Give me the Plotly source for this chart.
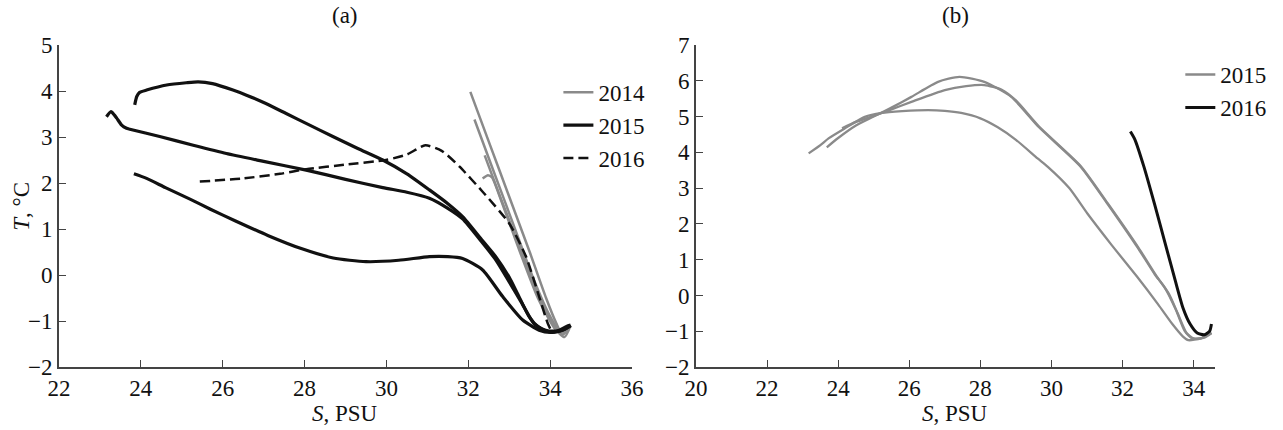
import plotly.graph_objects as go

# ---------------- Panel (a) data ----------------
# 2014 (gray) profiles
a2014_1_S = [32.05, 32.5, 33.0, 33.5, 33.9, 34.15, 34.3, 34.5]
a2014_1_T = [3.98, 2.9, 1.7, 0.5, -0.5, -1.05, -1.3, -1.1]
a2014_2_S = [32.15, 32.6, 33.1, 33.6, 34.0, 34.25, 34.4]
a2014_2_T = [3.38, 2.3, 1.1, -0.1, -0.9, -1.25, -1.2]
a2014_3_S = [32.4, 32.8, 33.3, 33.75, 34.1, 34.3, 34.45]
a2014_3_T = [2.6, 1.65, 0.5, -0.5, -1.1, -1.3, -1.15]
a2014_4_S = [32.35, 32.48, 32.58, 32.75, 33.2, 33.7, 34.1, 34.35, 34.5]
a2014_4_T = [2.1, 2.17, 2.12, 1.75, 0.65, -0.5, -1.15, -1.35, -1.1]

# 2015 (black) profiles
a2015_1_S = [23.85, 23.9, 23.97, 24.14, 24.63, 25.11, 25.4, 25.75, 26.25, 26.58, 27.0, 27.55,
             28.1, 28.69, 29.3, 29.91, 30.5, 31.05, 31.5, 31.86, 32.3, 32.67, 33.0, 33.2,
             33.49, 33.7, 33.89, 34.05, 34.22, 34.4, 34.5]
a2015_1_T = [3.70, 3.88, 3.97, 4.02, 4.13, 4.18, 4.2, 4.16, 4.02, 3.91, 3.75, 3.51,
             3.27, 3.01, 2.75, 2.5, 2.2, 1.85, 1.55, 1.27, 0.8, 0.4, -0.05, -0.4,
             -0.91, -1.12, -1.2, -1.22, -1.2, -1.12, -1.09]
a2015_2_S = [23.16, 23.27, 23.35, 23.41, 23.53, 23.65, 23.73, 24.46, 25.28, 26.09, 27.0,
             28.04, 29.0, 29.91, 30.5, 31.05, 31.5, 31.86, 32.3, 32.67, 33.0, 33.3, 33.6,
             33.85, 34.1, 34.35, 34.5]
a2015_2_T = [3.44, 3.55, 3.48, 3.41, 3.26, 3.19, 3.17, 3.01, 2.82, 2.64, 2.47,
             2.28, 2.08, 1.9, 1.8, 1.67, 1.45, 1.22, 0.75, 0.33, -0.15, -0.6, -1.05,
             -1.2, -1.24, -1.18, -1.1]
a2015_3_S = [23.83, 24.14, 24.6, 25.2, 25.7, 26.3, 27.1, 27.9, 28.7, 29.5, 30.3,
             31.05, 31.5, 31.86, 32.35, 32.84, 33.33, 33.73, 34.0, 34.3, 34.5]
a2015_3_T = [2.2, 2.1, 1.9, 1.65, 1.43, 1.18, 0.86, 0.58, 0.37, 0.29, 0.32,
             0.4, 0.4, 0.36, 0.11, -0.47, -0.98, -1.2, -1.25, -1.2, -1.1]

# 2016 (dashed) profile
a2016_S = [25.44, 26.5, 27.4, 28.04, 29.0, 29.99, 30.5, 30.95, 31.35, 31.78, 32.35,
           33.0, 33.41, 33.73, 33.94, 34.02]
a2016_T = [2.03, 2.1, 2.2, 2.3, 2.4, 2.5, 2.62, 2.82, 2.7, 2.36, 1.81,
           1.12, 0.4, -0.47, -1.05, -1.2]

# ---------------- Panel (b) data ----------------
b2015_1_S = [23.17, 23.5, 23.73, 24.19, 24.75, 25.22, 25.8, 26.53, 27.0, 27.46, 28.0,
             28.49, 29.0, 29.61, 29.89, 30.5, 31.01, 31.7, 32.41, 33.0, 33.4, 33.7,
             33.85, 34.2, 34.5]
b2015_1_T = [3.97, 4.2, 4.39, 4.67, 4.99, 5.1, 5.15, 5.18, 5.16, 5.1, 4.95,
             4.7, 4.35, 3.83, 3.6, 3.0, 2.29, 1.4, 0.52, -0.25, -0.8, -1.15,
             -1.25, -1.2, -1.05]
b2015_2_S = [23.68, 24.0, 24.5, 25.0, 25.5, 26.06, 26.81, 27.41, 28.11, 28.87, 29.65,
             30.82, 31.57, 32.41, 32.9, 33.2, 33.5, 33.75, 33.95, 34.2, 34.5]
b2015_2_T = [4.14, 4.4, 4.75, 5.0, 5.25, 5.55, 5.97, 6.11, 5.97, 5.55, 4.7,
             3.6, 2.57, 1.36, 0.6, 0.2, -0.4, -1.0, -1.2, -1.2, -1.05]
b2015_3_S = [24.11, 24.5, 25.0, 25.5, 26.06, 27.0, 27.6, 28.11, 28.6, 29.0, 29.65,
             30.82, 31.6, 32.45, 32.95, 33.3, 33.55, 33.8, 34.0, 34.3, 34.5]
b2015_3_T = [4.67, 4.85, 5.02, 5.2, 5.41, 5.74, 5.85, 5.88, 5.75, 5.45, 4.72,
             3.62, 2.55, 1.33, 0.55, 0.05, -0.5, -1.05, -1.2, -1.18, -1.05]
b2016_S = [32.22, 32.35, 32.6, 32.9, 33.2, 33.5, 33.7, 33.9, 34.1, 34.3, 34.45, 34.5]
b2016_T = [4.58, 4.35, 3.6, 2.55, 1.45, 0.35, -0.35, -0.8, -1.05, -1.1, -1.0, -0.8]

# axis ticks
a_xticks = [22, 24, 26, 28, 30, 32, 34, 36]
a_yticks = [-2, -1, 0, 1, 2, 3, 4, 5]
b_xticks = [20, 22, 24, 26, 28, 30, 32, 34]
b_yticks = [-2, -1, 0, 1, 2, 3, 4, 5, 6, 7]


def join(*pairs):
    xs, ys = [], []
    for s, t in pairs:
        if xs:
            xs.append(None)
            ys.append(None)
        xs.extend(s)
        ys.extend(t)
    return xs, ys


GRAY = "#8a8a8a"
BLACK = "#111111"
FONT = "Liberation Serif"
FS = 23
SM = 0.6

fig = go.Figure()

x, y = join((a2014_1_S, a2014_1_T), (a2014_2_S, a2014_2_T), (a2014_3_S, a2014_3_T), (a2014_4_S, a2014_4_T))
fig.add_trace(go.Scatter(x=x, y=y, mode="lines", name="2014",
                         line=dict(color=GRAY, width=2.5, shape="spline", smoothing=SM),
                         xaxis="x", yaxis="y", legend="legend"))
x, y = join((a2015_1_S, a2015_1_T), (a2015_2_S, a2015_2_T), (a2015_3_S, a2015_3_T))
fig.add_trace(go.Scatter(x=x, y=y, mode="lines", name="2015",
                         line=dict(color=BLACK, width=3.2, shape="spline", smoothing=SM),
                         xaxis="x", yaxis="y", legend="legend"))
fig.add_trace(go.Scatter(x=a2016_S, y=a2016_T, mode="lines", name="2016",
                         line=dict(color=BLACK, width=2.5, dash="10px,5px", shape="spline", smoothing=SM),
                         xaxis="x", yaxis="y", legend="legend"))

x, y = join((b2015_1_S, b2015_1_T), (b2015_2_S, b2015_2_T), (b2015_3_S, b2015_3_T))
fig.add_trace(go.Scatter(x=x, y=y, mode="lines", name="2015",
                         line=dict(color=GRAY, width=2.3, shape="spline", smoothing=SM),
                         xaxis="x2", yaxis="y2", legend="legend2"))
fig.add_trace(go.Scatter(x=b2016_S, y=b2016_T, mode="lines", name="2016",
                         line=dict(color=BLACK, width=3, shape="spline", smoothing=SM),
                         xaxis="x2", yaxis="y2", legend="legend2"))

axis_common = dict(showline=True, linecolor="#444", linewidth=1.6, ticks="inside", ticklen=7,
                   tickwidth=1.4, tickcolor="#444", showgrid=False, zeroline=False,
                   tickfont=dict(family=FONT, size=FS, color="#111"), automargin=False)

txt = dict(family=FONT, size=FS, color="#111")

fig.update_layout(
    width=1283, height=430,
    margin=dict(l=59, r=66, t=45, b=63),
    paper_bgcolor="white", plot_bgcolor="white",
    showlegend=True,
    xaxis=dict(domain=[0, 0.4957], range=[22, 36], tickvals=a_xticks, anchor="y", **axis_common),
    yaxis=dict(domain=[0, 1], range=[-2, 5], tickvals=a_yticks, anchor="x", **axis_common),
    xaxis2=dict(domain=[0.551, 1], range=[20, 34.6], tickvals=b_xticks, anchor="y2", **axis_common),
    yaxis2=dict(domain=[0, 1], range=[-2, 7], tickvals=b_yticks, anchor="x2", **axis_common),
    legend=dict(x=0.432, y=0.92, xanchor="left", yanchor="top", bgcolor="rgba(0,0,0,0)",
                font=txt, tracegroupgap=0),
    legend2=dict(x=0.97, y=0.975, xanchor="left", yanchor="top", bgcolor="rgba(0,0,0,0)",
                 font=txt, tracegroupgap=0),
    annotations=[
        dict(text="(a)", x=0.2478, y=1.093, xref="paper", yref="paper", showarrow=False,
             xanchor="center", yanchor="middle", font=txt),
        dict(text="(b)", x=0.7755, y=1.093, xref="paper", yref="paper", showarrow=False,
             xanchor="center", yanchor="middle", font=txt),
        dict(text="<i>S</i>, PSU", x=0.2478, y=-0.143, xref="paper", yref="paper", showarrow=False,
             xanchor="center", yanchor="middle", font=txt),
        dict(text="<i>S</i>, PSU", x=0.7755, y=-0.143, xref="paper", yref="paper", showarrow=False,
             xanchor="center", yanchor="middle", font=txt),
        dict(text="<i>T</i>, °C", x=-0.033, y=0.5, xref="paper", yref="paper", showarrow=False,
             xanchor="center", yanchor="middle", textangle=-90, font=txt),
    ],
)

fig.write_html("out.html")
